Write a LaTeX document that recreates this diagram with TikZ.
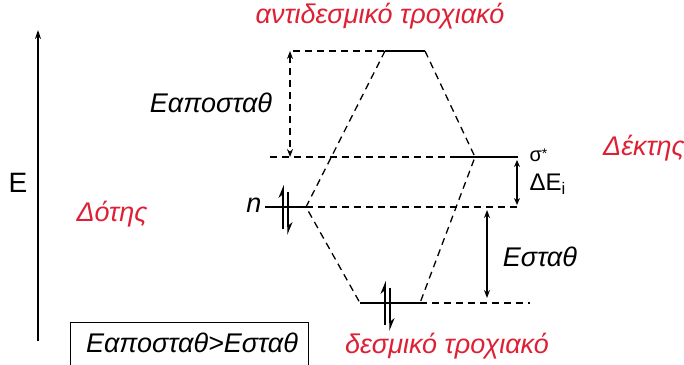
\documentclass[tikz,border=0pt]{standalone}
\usepackage{fontspec}
\setmainfont{Liberation Sans}
\usetikzlibrary{arrows.meta}
\definecolor{lblred}{RGB}{222,32,52}
\begin{document}
\begin{tikzpicture}[>=stealth, x=1pt, y=-1pt,
	lvl/.style={line width=1.4pt},
	dsh/.style={line width=1.3pt, dash pattern=on 7pt off 5pt},
	lbl/.style={font=\fontsize{27}{30}\selectfont\itshape},
	redlbl/.style={lbl, text=lblred},
	spin/.style={line width=1.5pt}]
	\useasboundingbox (0,0) rectangle (684,364);
	% energy axis
	\coordinate (ebot) at (38,341); \coordinate (etop) at (38,30);
	\draw[-{Stealth[length=9pt,width=6pt]}, line width=1.2pt] (ebot) -- (etop);
	\node (elab) at (18,183) {\fontsize{28}{30}\selectfont E};
	% levels
	\coordinate (a1) at (385,51); \coordinate (a2) at (425,51); \coordinate (a0) at (293,51);
	\coordinate (s0) at (270,157); \coordinate (s1) at (452,157); \coordinate (s2) at (518,157); \coordinate (sj) at (475,157);
	\coordinate (n1) at (265,207); \coordinate (n2) at (306,207); \coordinate (n3) at (517,207);
	\coordinate (b1) at (360,303); \coordinate (b2) at (420,303); \coordinate (b3) at (530,303);
	\draw[lvl] (a1) -- (a2);
	\draw[lvl] (s1) -- (s2);
	\draw[lvl] (n1) -- (n2);
	\draw[lvl] (b1) -- (b2);
	\draw[dsh] (a0) -- (a1);
	\draw[dsh] (s0) -- (s1);
	\draw[dsh] (n2) -- (n3);
	\draw[dsh] (b2) -- (b3);
	% correlation lines
	\draw[dsh] (a1) -- (n2) -- (b1);
	\draw[dsh] (a2) -- (sj) -- (b2);
	% electrons
	\foreach \c/\x/\y in {n/283/207,b/385/303}{
		\coordinate (\c up1) at (\x,\y+22); \coordinate (\c up2) at (\x,\y-22);
		\coordinate (\c dn1) at (\x+5,\y-15); \coordinate (\c dn2) at (\x+5,\y+28);
		\draw[spin,-{Stealth[harpoon,length=11pt,width=9pt]}] (\c up1) -- (\c up2);
		\draw[spin,-{Stealth[harpoon,length=11pt,width=9pt]}] (\c dn1) -- (\c dn2);
	}
	% energy gaps
	\coordinate (ga) at (290,51); \coordinate (gb) at (290,157);
	\draw[dsh,{Stealth[length=8pt,width=6pt]}-{Stealth[length=8pt,width=6pt]}] (ga) -- (gb);
	\coordinate (da) at (517,160); \coordinate (db) at (517,205);
	\draw[line width=1.2pt,{Stealth[length=7pt,width=6pt]}-{Stealth[length=7pt,width=6pt]}] (da) -- (db);
	\coordinate (ea) at (487,210); \coordinate (eb) at (487,298);
	\draw[line width=1.2pt,{Stealth[length=8pt,width=6pt]}-{Stealth[length=8pt,width=6pt]}] (ea) -- (eb);
	% labels
	\node[redlbl] (anti) at (380,16) {αντιδεσμικό τροχιακό};
	\node[redlbl] (desm) at (447,346) {δεσμικό τροχιακό};
	\node[redlbl] (dotis) at (112,214) {Δότης};
	\node[redlbl] (dektis) at (644,148) {Δέκτης};
	\node[lbl] (eapo) at (211,103) {Εαποσταθ};
	\node[lbl] (estab) at (540,257) {Εσταθ};
	\node[lbl] (nlab) at (254,205) {n};
	\node[anchor=west] (slab) at (526,155) {\fontsize{20}{20}\selectfont σ\raisebox{3pt}{\fontsize{14}{14}\selectfont *}};
	\node[anchor=west] (dlab) at (526,184) {\fontsize{24}{26}\selectfont ΔE\textsubscript{i}};
	\node[draw, line width=1pt, minimum width=238pt, minimum height=46pt, anchor=north west] (cmp) at (70,322) {};
	\node[lbl] (cmptxt) at (192,343) {Εαποσταθ>Εσταθ};
\end{tikzpicture}
\end{document}
